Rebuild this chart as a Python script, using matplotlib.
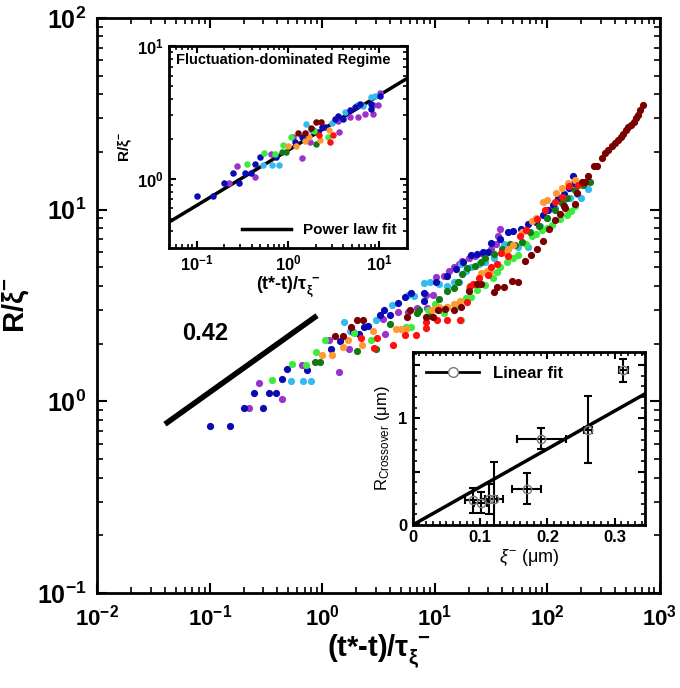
import matplotlib
matplotlib.use("Agg")
import math
import matplotlib.pyplot as plt
from matplotlib.ticker import FixedLocator, FuncFormatter, LogLocator, MultipleLocator, NullFormatter

plt.rcParams['font.family'] = ['Liberation Sans', 'DejaVu Sans']
plt.rcParams['mathtext.fontset'] = 'custom'
plt.rcParams['mathtext.rm'] = 'Liberation Sans'
plt.rcParams['mathtext.it'] = 'Liberation Sans:italic'
plt.rcParams['mathtext.bf'] = 'Liberation Sans:bold'

# main data, one set per sample
blue_x = [0.10, 0.15, 0.20, 0.25, 0.295, 0.34, 0.39, 0.44, 0.49, 0.74, 1.2, 1.44, 1.89, 2.14, 2.36, 2.56,
          3.28, 3.56, 4.03, 4.75, 5.4, 6.2, 8.0, 8.1, 10.2, 13, 15.5, 18, 21, 24, 27, 30, 32, 38, 45, 50,
          58, 68, 80, 92, 101, 112, 125, 140, 155, 169, 175]
blue_y = [0.74, 0.74, 0.92, 1.10, 0.92, 1.10, 1.10, 1.30, 1.47, 1.46, 1.88, 2.06, 2.31, 2.25, 2.45, 2.47,
          2.81, 2.98, 2.81, 3.27, 3.50, 3.66, 3.34, 3.66, 4.17, 4.5, 4.9, 5.3, 5.8, 5.9, 6.0, 6.0, 6.7, 7.0,
          7.6, 7.7, 7.9, 8.4, 8.6, 9.4, 10.0, 10.6, 11.5, 12.0, 13.0, 14.9, 13.8]

purple_x = [0.225, 0.275, 0.44, 0.66, 1.14, 1.41, 1.72, 3.5, 3.65, 4.75, 5.85, 7.0, 8.4, 8.6, 9.6, 10.2,
            12, 13.5, 15, 16.5, 17.5, 20, 23, 27, 32, 35, 36.5, 38]
purple_y = [0.92, 1.24, 1.03, 1.54, 2.08, 1.42, 1.88, 2.70, 2.24, 2.94, 2.94, 3.08, 3.60, 3.08, 3.60, 4.46,
            4.5, 4.8, 5.0, 5.2, 5.4, 5.6, 5.7, 5.9, 6.2, 6.6, 7.3, 7.9]

cyan_x = [0.53, 0.67, 0.79, 1.56, 1.77, 3.03, 4.2, 5.75, 6.6, 8.0, 9.0, 11, 13, 15, 16.5, 17, 19, 21, 25,
          28, 34, 41, 45, 55, 68, 87, 100, 117, 139, 160, 185, 201, 232]
cyan_y = [1.27, 1.27, 1.27, 2.58, 2.33, 2.65, 3.17, 3.60, 3.53, 4.16, 4.20, 4.1, 4.0, 4.2, 4.2, 5.2, 4.8,
          5.0, 5.2, 5.3, 5.6, 6.6, 6.2, 6.4, 6.4, 8.2, 9.0, 10.2, 10.8, 11.5, 12.0, 11.5, 12.8]

green_x = [0.36, 0.54, 0.72, 0.88, 1.07, 1.92, 2.74, 5.6, 6.2, 8.7, 10, 11, 12, 13, 16, 17, 19, 21, 24, 28,
           33, 36, 38, 44, 50, 55, 65, 73, 80, 90, 99, 110, 131, 150, 163, 178]
green_y = [1.29, 1.56, 1.54, 1.80, 2.08, 2.28, 2.08, 2.43, 2.43, 3.0, 3.2, 3.0, 2.9, 3.1, 3.2, 2.67, 3.46,
           3.5, 3.8, 4.06, 4.4, 4.7, 5.0, 5.3, 5.6, 5.8, 6.6, 7.3, 7.5, 7.8, 8.0, 8.3, 8.9, 9.4, 9.8, 10.4]

dkgreen_x = [0.86, 0.95, 2.05, 3.0, 4.0, 6.9, 7.2, 9.2, 11, 12.9, 15, 16, 17.5, 19.4, 23, 26, 28, 34, 40,
             47, 52, 59.5, 70, 85, 100, 117, 135, 150, 178, 210, 240]
dkgreen_y = [1.60, 1.60, 1.82, 1.88, 2.52, 2.9, 3.0, 2.77, 3.4, 3.75, 3.9, 4.2, 4.6, 4.97, 5.1, 5.3, 5.6,
             5.9, 6.2, 6.6, 6.5, 6.8, 7.6, 8.2, 9.0, 10.0, 10.8, 11.5, 12.7, 13.5, 14.0]

orange_x = [1.0, 1.22, 1.52, 1.70, 2.26, 2.83, 4.5, 5.0, 5.6, 9.4, 9.8, 11, 13, 15, 16.8, 20, 24, 26, 29,
            31, 36, 43.5, 45, 50, 60, 73, 80, 92, 100, 120, 135, 152, 178]
orange_y = [1.75, 1.75, 1.91, 2.08, 1.96, 2.33, 2.39, 2.39, 2.39, 2.98, 3.04, 3.1, 3.1, 3.2, 3.33, 3.9,
            4.1, 4.67, 4.8, 4.7, 5.2, 5.95, 6.2, 6.5, 7.6, 8.7, 9.0, 11.0, 11.2, 12.2, 13.0, 13.8, 14.3]

red_x = [2.2, 2.9, 3.07, 4.3, 5.5, 6.8, 8.3, 8.3, 10.5, 12.9, 16.8, 19.4, 20.8, 22, 25, 30, 32, 36, 39,
         45, 57, 65, 81, 95, 117, 135, 158, 190, 216]
red_y = [2.14, 1.89, 2.14, 1.96, 2.23, 2.23, 2.42, 2.6, 2.67, 2.67, 2.67, 3.3, 3.98, 4.1, 4.4, 4.58, 5.0,
         5.2, 5.95, 5.7, 7.3, 7.8, 8.9, 9.9, 11.0, 11.7, 13.2, 13.4, 14.0]

maroon_x = [1.30, 1.54, 1.8, 2.04, 2.3, 5.7, 6.0, 8.3, 9.6, 10.6, 12.4, 14.8, 17, 20, 24, 26, 34, 36, 41,
            49, 55, 63, 72, 81, 92, 104, 117, 130, 141, 145, 176, 186, 206, 215, 233, 259, 279, 305, 324,
            350, 376, 400, 426, 450, 477, 500, 527, 560, 595, 620, 646, 670, 708]
maroon_y = [2.2, 2.2, 2.43, 2.67, 2.67, 2.74, 3.0, 2.76, 2.74, 3.0, 3.04, 3.0, 3.1, 3.75, 4.1, 4.1, 3.7,
            3.97, 3.97, 4.24, 4.2, 5.4, 5.8, 6.2, 6.9, 7.9, 8.8, 9.5, 10.4, 10.2, 10.7, 12.2, 14.0, 13.9,
            15.0, 16.8, 16.8, 18.6, 19.7, 20.5, 21.4, 22.3, 23.0, 24.0, 24.9, 26.0, 27.0, 27.5, 28.5, 30.0,
            31.2, 33.0, 35.2]

series = [(purple_x, purple_y, '#9933cc'), (cyan_x, cyan_y, '#33bbee'), (blue_x, blue_y, '#0a0ab4'),
          (green_x, green_y, '#3cec3c'), (dkgreen_x, dkgreen_y, '#137a13'), (orange_x, orange_y, '#ff9933'),
          (red_x, red_y, '#ff1010'), (maroon_x, maroon_y, '#7a0000')]
# end of the fluctuation-dominated regime for each sample (points shown in the inset)
crossover = [10.5, 9.5, 10.5, 2.8, 2.1, 2.9, 3.1, 2.4]

slope_x = [0.04, 0.9]
slope_y = [0.76, 2.8]

fit_x = [0.05, 20]
fit_y = [0.47, 5.7]

# crossover radius vs correlation length
xi = [0.090, 0.101, 0.113, 0.121, 0.169, 0.191, 0.261, 0.313]
rc = [0.23, 0.21, 0.24, 0.24, 0.34, 0.81, 0.895, 1.45]
xi_err = [0.012, 0.010, 0.012, 0.013, 0.021, 0.036, 0.006, 0.007]
rc_err = [0.12, 0.10, 0.14, 0.35, 0.145, 0.095, 0.315, 0.105]
lin_x = [0, 0.345]
lin_y = [0, 1.23]


def pow_fmt(v, pos):
    e = int(round(math.log10(v)))
    return r'$\mathbf{10^{%d}}$' % e


def style_log(ax, size):
    ax.set_xscale('log')
    ax.set_yscale('log')
    for sp in ax.spines.values():
        sp.set_linewidth(2)
    ax.tick_params(which='both', direction='in', top=True, right=True)
    ax.tick_params(which='major', length=7 if size > 14 else 5, width=1.5, labelsize=size, pad=8)
    ax.tick_params(which='minor', length=4 if size > 14 else 3, width=1.2)
    ax.xaxis.set_minor_locator(LogLocator(base=10, subs=range(2, 10), numticks=20))
    ax.yaxis.set_minor_locator(LogLocator(base=10, subs=range(2, 10), numticks=20))
    ax.xaxis.set_minor_formatter(NullFormatter())
    ax.yaxis.set_minor_formatter(NullFormatter())
    ax.xaxis.set_major_formatter(FuncFormatter(pow_fmt))
    ax.yaxis.set_major_formatter(FuncFormatter(pow_fmt))


fig = plt.figure(figsize=(6.8, 6.88), dpi=100)

ax = fig.add_axes([0.143, 0.138, 0.827, 0.836])
for (sx, sy, c) in series:
    ax.scatter(sx, sy, s=27, color=c, linewidths=0, zorder=3)
ax.plot(slope_x, slope_y, color='black', lw=4, solid_capstyle='butt')
ax.text(0.092, 2.25, '0.42', fontsize=17, fontweight='bold', ha='center', va='center')
ax.set_xlim(0.01, 1000)
ax.set_ylim(0.1, 100)
style_log(ax, 18)
ax.tick_params(axis='x', which='major', labelsize=16)
ax.xaxis.set_major_locator(LogLocator(base=10, numticks=10))
ax.yaxis.set_major_locator(LogLocator(base=10, numticks=10))
ax.set_xlabel(r'(t*-t)/$\mathbf{\tau_{\xi}^{\ -}}$', fontsize=21, fontweight='bold', labelpad=2)
ax.set_ylabel(r'R/$\mathbf{\xi^{-}}$', fontsize=21, fontweight='bold', labelpad=4)

# inset 1: fluctuation-dominated regime
ax1 = fig.add_axes([0.2485, 0.6395, 0.35, 0.2935])
for (sx, sy, c), xc in zip(series, crossover):
    px = [a for a, b in zip(sx, sy) if a <= xc]
    py = [b for a, b in zip(sx, sy) if a <= xc]
    ax1.scatter(px, py, s=22, color=c, linewidths=0, zorder=3)
ax1.plot(fit_x, fit_y, color='black', lw=2.5, label='Power law fit')
ax1.set_xlim(0.05, 20)
ax1.set_ylim(0.3, 10)
style_log(ax1, 12)
ax1.tick_params(which='major', pad=4)
ax1.xaxis.set_major_locator(FixedLocator([0.1, 1, 10]))
ax1.yaxis.set_major_locator(FixedLocator([1, 10]))
ax1.set_xlabel(r'(t*-t)/$\mathbf{\tau_{\xi}^{\ -}}$', fontsize=13, fontweight='bold', labelpad=1)
ax1.set_ylabel(r'R/$\mathbf{\xi^{-}}$', fontsize=11, fontweight='bold', labelpad=2)
ax1.text(0.03, 0.93, 'Fluctuation-dominated Regime', transform=ax1.transAxes, fontsize=10.5,
         fontweight='bold', va='center')
ax1.legend(loc='lower right', frameon=False, handlelength=3.2, prop={'weight': 'bold', 'size': 11},
           borderaxespad=0.3)

# inset 2: crossover radius
ax2 = fig.add_axes([0.607, 0.237, 0.3415, 0.251])
ax2.errorbar(xi, rc, xerr=xi_err, yerr=rc_err, fmt='none', ecolor='black', elinewidth=1.5, capsize=3,
             capthick=1.5, zorder=3)
ax2.plot(xi, rc, 'o', mfc='none', mec='#777777', ms=6, zorder=4)
ax2.plot(lin_x, lin_y, color='black', lw=2.5)
ax2.plot([], [], color='black', lw=2, marker='o', mfc='white', mec='#777777', ms=7, label='Linear fit')
ax2.set_xlim(0, 0.345)
ax2.set_ylim(0, 1.62)
for sp in ax2.spines.values():
    sp.set_linewidth(2)
ax2.tick_params(which='both', direction='in', top=True, right=True)
ax2.tick_params(which='major', length=5, width=1.5, labelsize=12, pad=4)
ax2.tick_params(which='minor', length=3, width=1.2)
ax2.xaxis.set_major_locator(MultipleLocator(0.1))
ax2.xaxis.set_minor_locator(MultipleLocator(0.01))
ax2.yaxis.set_major_locator(MultipleLocator(0.5))
ax2.yaxis.set_minor_locator(MultipleLocator(0.1))
ax2.xaxis.set_major_formatter(FuncFormatter(lambda v, p: '0' if abs(v) < 1e-9 else '%.1f' % v))
ax2.yaxis.set_major_formatter(FuncFormatter(lambda v, p: '%d' % round(v) if abs(v - round(v)) < 1e-9 else ''))
for lab in ax2.get_xticklabels() + ax2.get_yticklabels():
    lab.set_fontweight('bold')
ax2.set_xlabel(r'$\xi^{-}$ (μm)', fontsize=13, labelpad=1)
ax2.set_ylabel(r'R$_{\mathrm{Crossover}}$ (μm)', fontsize=12, labelpad=4)
ax2.legend(loc='upper left', frameon=False, handlelength=3.2, prop={'weight': 'bold', 'size': 12},
           borderaxespad=0.4)

fig.savefig('out.png', dpi=100)
